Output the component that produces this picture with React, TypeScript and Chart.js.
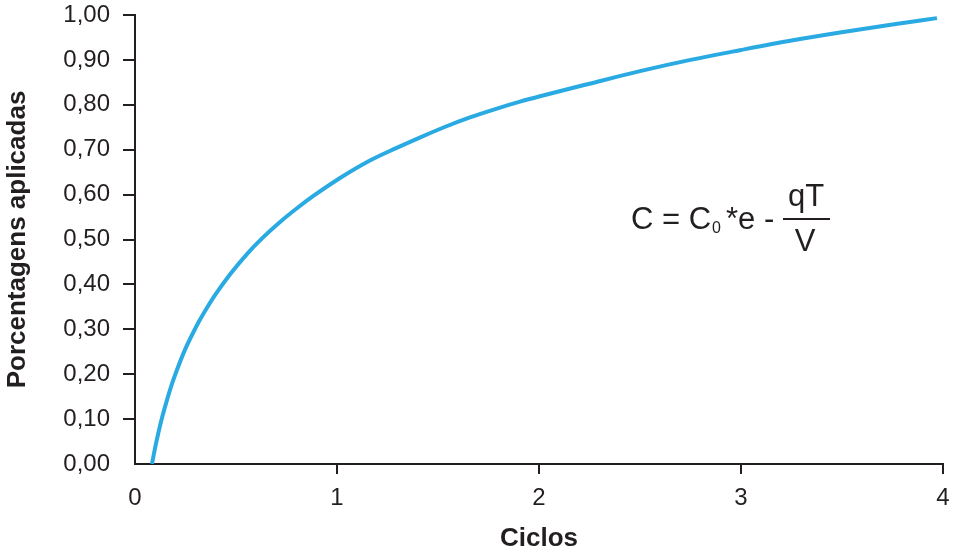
import { useEffect, useRef } from "react";
import { Chart, registerables } from "chart.js";

Chart.register(...registerables);

// Ciclos (x) and Porcentagens aplicadas (y)
const cycles = [
  0.084, 0.1, 0.115, 0.135, 0.16, 0.185, 0.209, 0.245, 0.284, 0.32, 0.355, 0.396,
  0.47, 0.553, 0.63, 0.718, 0.8, 0.883, 1.015, 1.163, 1.29, 1.41, 1.53, 1.658,
  1.78, 1.906, 2.005, 2.25, 2.5, 2.75, 3.0, 3.25, 3.49, 3.75, 3.97,
];
const applied = [
  0, 0.037, 0.068, 0.105, 0.145, 0.181, 0.211, 0.252, 0.289, 0.32, 0.347, 0.376,
  0.422, 0.467, 0.503, 0.539, 0.569, 0.597, 0.637, 0.676, 0.703, 0.727, 0.75, 0.772,
  0.79, 0.807, 0.819, 0.847, 0.875, 0.9, 0.922, 0.943, 0.961, 0.979, 0.993,
];
const yTickLabels = ["0,00", "0,10", "0,20", "0,30", "0,40", "0,50", "0,60", "0,70", "0,80", "0,90", "1,00"];
const xTickLabels = ["0", "1", "2", "3", "4"];

const FONT = '"Liberation Sans", Arial, Helvetica, sans-serif';
const INK = "#231f20";

const formulaPlugin = {
  id: "formula",
  afterDraw(chart: any) {
    const ctx = chart.ctx as CanvasRenderingContext2D;
    ctx.save();
    ctx.fillStyle = INK;
    ctx.strokeStyle = INK;
    ctx.textBaseline = "alphabetic";
    ctx.textAlign = "left";
    ctx.font = `31px ${FONT}`;
    ctx.fillText("C = C", 631, 229);
    ctx.font = `16px ${FONT}`;
    ctx.fillText("0", 712, 233);
    ctx.font = `31px ${FONT}`;
    ctx.fillText("*e -", 726, 229);
    ctx.textAlign = "center";
    ctx.fillText("qT", 806, 206);
    ctx.fillText("V", 805, 251);
    ctx.beginPath();
    ctx.lineWidth = 2;
    ctx.moveTo(783, 219);
    ctx.lineTo(830, 219);
    ctx.stroke();
    ctx.restore();
  },
};

export default function App() {
  const canvasRef = useRef<HTMLCanvasElement | null>(null);

  useEffect(() => {
    const canvas = canvasRef.current;
    if (!canvas) return;
    const tickColor = (c: any) =>
      c.tick && c.tick.value === 0 ? "rgba(0,0,0,0)" : INK;
    const chart = new Chart(canvas, {
      type: "line",
      data: {
        datasets: [
          {
            data: cycles.map((x, i) => ({ x, y: applied[i] })),
            borderColor: "#2aaae2",
            borderWidth: 4,
            pointRadius: 0,
            cubicInterpolationMode: "monotone",
            fill: false,
          },
        ],
      },
      options: {
        responsive: false,
        animation: false,
        layout: { autoPadding: false, padding: { top: 15, right: 12, bottom: 0, left: 0 } },
        plugins: {
          legend: { display: false },
          tooltip: { enabled: false },
        },
        scales: {
          x: {
            type: "linear",
            min: 0,
            max: 4,
            afterFit: (s: any) => {
              s.height = 88;
              s.paddingLeft = 0;
              s.paddingRight = 0;
            },
            ticks: {
              stepSize: 1,
              padding: 10,
              color: INK,
              font: { family: FONT, size: 24 },
              callback: (v: any) => xTickLabels[Math.round(Number(v))] ?? "",
            },
            grid: {
              drawOnChartArea: false,
              drawTicks: true,
              tickLength: 10,
              lineWidth: 2,
              color: tickColor,
            },
            border: { display: true, color: INK, width: 2 },
            title: {
              display: true,
              text: "Ciclos",
              color: INK,
              font: { family: FONT, size: 26, weight: "bold", lineHeight: 1 },
              padding: { top: 0, bottom: 0 },
            },
          },
          y: {
            type: "linear",
            min: 0,
            max: 1,
            afterFit: (s: any) => {
              s.width = 135;
              s.paddingTop = 0;
              s.paddingBottom = 0;
            },
            ticks: {
              stepSize: 0.1,
              padding: 13,
              color: INK,
              font: { family: FONT, size: 24 },
              callback: (v: any) => yTickLabels[Math.round(Number(v) * 10)] ?? "",
            },
            grid: {
              drawOnChartArea: false,
              drawTicks: true,
              tickLength: 12,
              lineWidth: 2,
              color: tickColor,
            },
            border: { display: true, color: INK, width: 2 },
            title: {
              display: true,
              text: "Porcentagens aplicadas",
              color: INK,
              font: { family: FONT, size: 26, weight: "bold", lineHeight: 1 },
              padding: { top: 5, bottom: 0 },
            },
          },
        },
      },
      plugins: [formulaPlugin],
    } as any);
    return () => chart.destroy();
  }, []);

  return (
    <div style={{ position: "absolute", left: 0, top: 0, width: 955, height: 552, background: "#fff" }}>
      <canvas ref={canvasRef} width={955} height={552} style={{ display: "block", width: 955, height: 552 }} />
    </div>
  );
}
